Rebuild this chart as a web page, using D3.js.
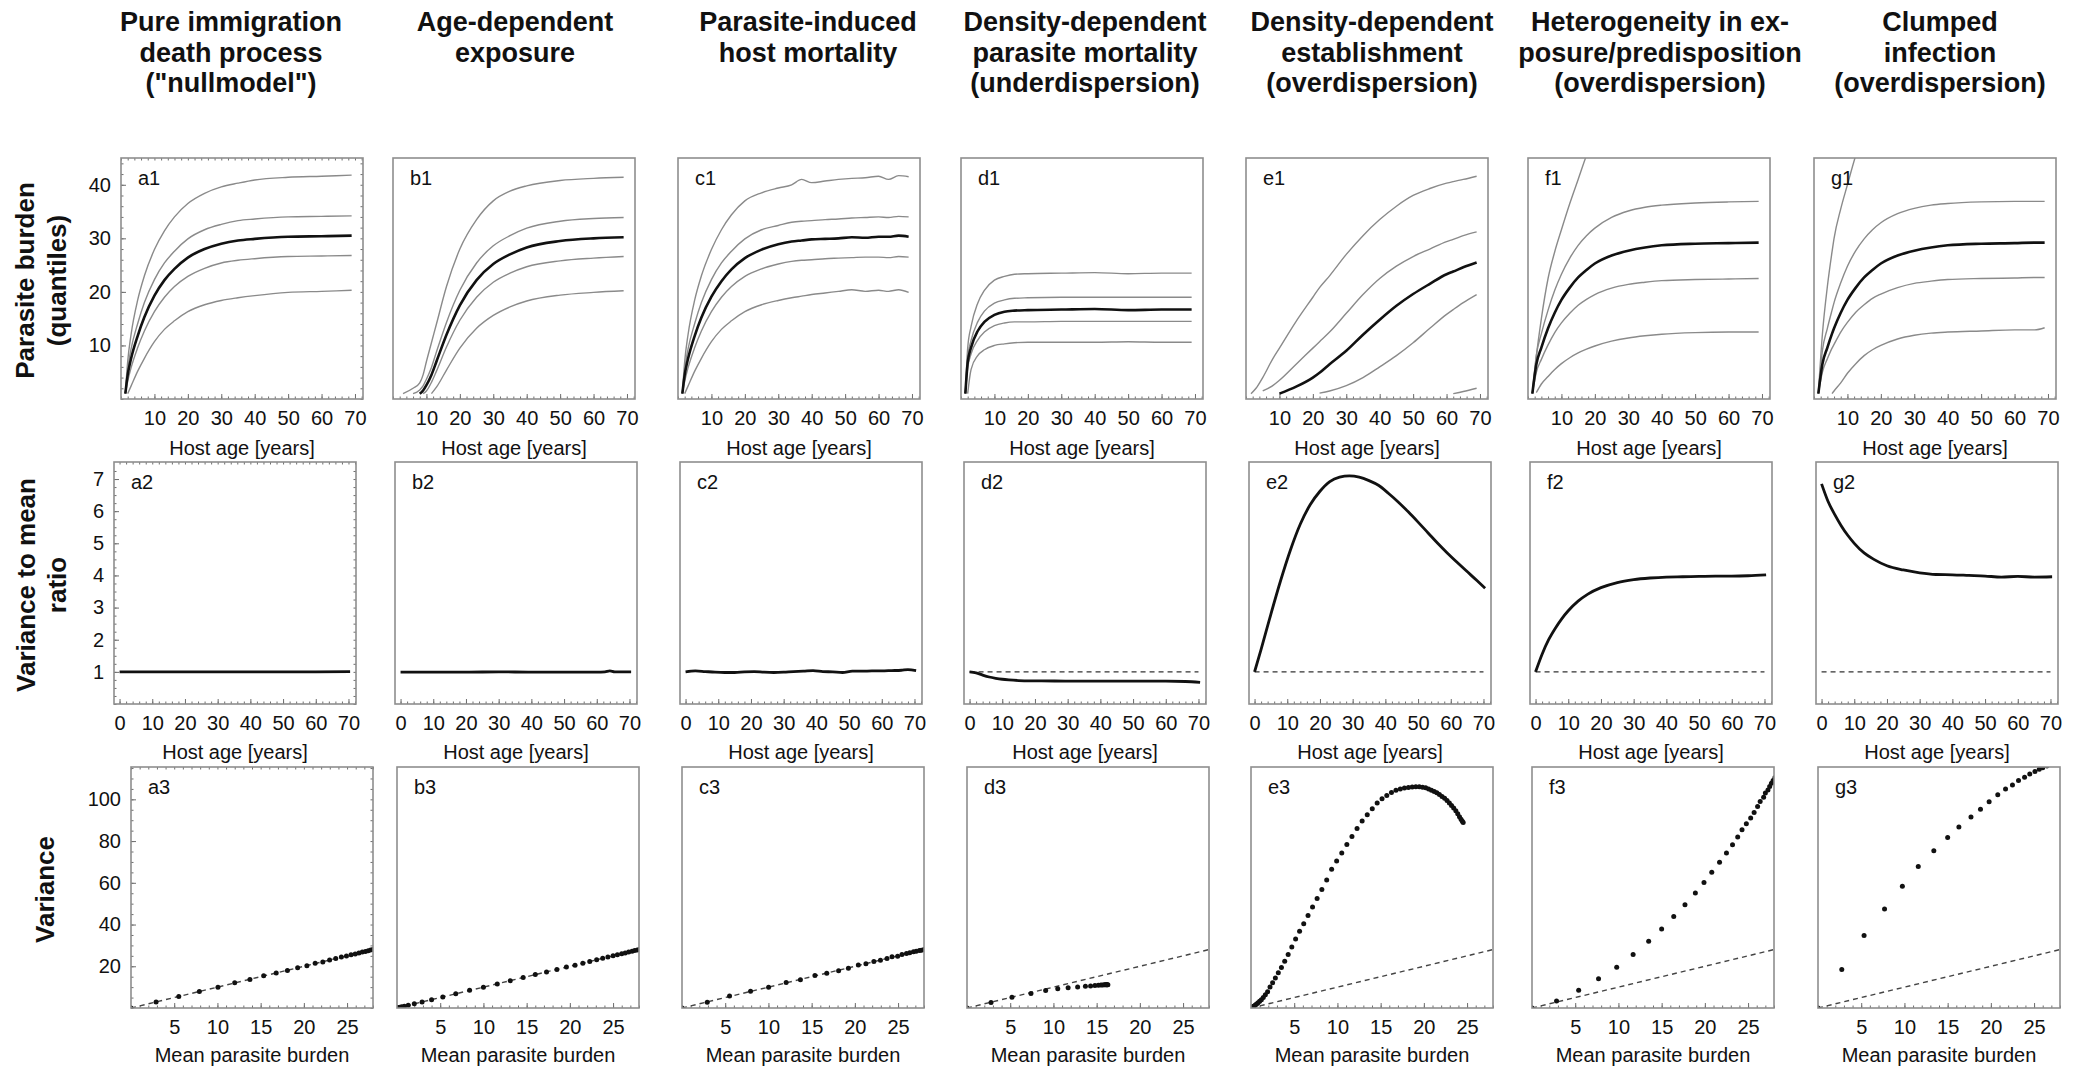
<!DOCTYPE html>
<html>
<head>
<meta charset="utf-8">
<script src="https://cdn.jsdelivr.net/npm/d3@7"></script>
<style>
  html, body { margin: 0; padding: 0; background: #fff; }
  svg { display: block; font-family: "Liberation Sans", Arial, Helvetica, sans-serif; }
</style>
</head>
<body>
<script>
// ---------------- Column headers ----------------
const colTitles = [
  ["Pure immigration", "death process", "(\"nullmodel\")"],
  ["Age-dependent", "exposure"],
  ["Parasite-induced", "host mortality"],
  ["Density-dependent", "parasite mortality", "(underdispersion)"],
  ["Density-dependent", "establishment", "(overdispersion)"],
  ["Heterogeneity in ex-", "posure/predisposition", "(overdispersion)"],
  ["Clumped", "infection", "(overdispersion)"]
];
const colIds = ["a", "b", "c", "d", "e", "f", "g"];

// ---------------- Row 1: parasite burden quantiles by host age ----------------
const a1Age = [1.3, 2, 3, 5, 7, 10, 13, 16, 20, 25, 30, 35, 40, 50, 60, 69];
const a1Hi  = [1, 7, 12, 18.5, 23, 27.9, 31.4, 34, 36.5, 38.4, 39.6, 40.3, 40.9, 41.4, 41.6, 41.8];
const a1Q75 = [1, 5.5, 9.3, 14.1, 18, 22.3, 25.4, 27.6, 29.9, 31.6, 32.6, 33.3, 33.6, 34, 34.1, 34.2];
const a1Med = [1, 4.5, 7.5, 11.8, 15.3, 19.3, 22.2, 24.3, 26.4, 28, 29, 29.6, 29.9, 30.3, 30.4, 30.5];
const a1Q25 = [1, 3.3, 5.8, 9.6, 12.7, 16.3, 19, 21, 22.9, 24.4, 25.4, 25.9, 26.2, 26.6, 26.7, 26.8];
const a1Lo  = [null, 1, 2.4, 5.2, 7.6, 10.7, 13, 14.6, 16.3, 17.6, 18.4, 18.9, 19.3, 19.9, 20.1, 20.3];

const b1Age = [3, 6, 8, 9, 10, 11.5, 13, 16, 20, 25, 30, 35, 40, 50, 60, 69];
const b1Hi  = [1, 2, 3, 4.5, 7, 10.5, 14, 21, 28, 33.5, 37, 38.8, 39.8, 40.8, 41.2, 41.4];
const b1Q75 = [null, 1, 1.7, 2.45, 3.7, 5.9, 8.8, 14.3, 20.3, 25.4, 28.6, 30.5, 31.9, 33.2, 33.7, 33.9];
const b1Med = [null, null, 1, 1.6, 2.6, 4.5, 7, 12, 17.5, 22.2, 25.2, 27, 28.3, 29.5, 30, 30.2];
const b1Q25 = [null, null, null, 1, 1.5, 3.1, 5.2, 9.7, 14.7, 19, 21.8, 23.5, 24.7, 25.8, 26.3, 26.6];
const b1Lo  = [null, null, null, null, null, 1, 2.2, 5.4, 9.5, 13.2, 15.6, 17.2, 18.3, 19.4, 19.9, 20.2];

const c1Age = [1.3, 2, 3, 5, 7, 10, 13, 16, 20, 25, 30, 34, 37, 40, 44, 48, 52, 56, 60, 63, 66, 69];
const c1Hi  = [1, 7, 12, 18.5, 23, 27.9, 31.6, 34.4, 37, 38.5, 39.4, 40, 41, 40.4, 40.7, 41, 41.2, 41.3, 41.6, 41, 41.7, 41.5];
const c1Q75 = [1, 5.5, 9.3, 14.1, 18, 22.3, 25.4, 27.6, 29.9, 31.6, 32.4, 33, 33.2, 33.3, 33.5, 33.6, 33.8, 33.9, 34, 33.9, 34.1, 34];
const c1Med = [1, 4.5, 7.5, 11.8, 15.2, 19.1, 22, 24.2, 26.3, 27.9, 28.9, 29.4, 29.6, 29.8, 29.9, 30, 30.2, 30.1, 30.3, 30.3, 30.5, 30.3];
const c1Q25 = [1, 3.3, 5.8, 9.6, 12.7, 16.3, 19, 21, 22.9, 24.3, 25.2, 25.7, 25.9, 26, 26.2, 26.3, 26.4, 26.5, 26.5, 26.4, 26.6, 26.5];
const c1Lo  = [null, 1, 2.4, 5.2, 7.6, 10.7, 13, 14.6, 16.3, 17.6, 18.4, 18.9, 19.2, 19.5, 19.8, 20.1, 20.4, 20.1, 20.3, 20.1, 20.4, 19.9];

const d1Age = [1.3, 2, 3, 5, 7, 10, 13, 16, 20, 30, 40, 50, 60, 69];
const d1Hi  = [1, 9.5, 13.5, 17.9, 20.3, 22.2, 22.9, 23.3, 23.4, 23.5, 23.6, 23.4, 23.5, 23.5];
const d1Q75 = [1, 7.8, 10.9, 14.4, 16.4, 17.9, 18.5, 18.8, 18.9, 19, 19, 19, 19, 19];
const d1Med = [1, 6.8, 9.6, 12.7, 14.4, 15.7, 16.3, 16.5, 16.6, 16.7, 16.8, 16.6, 16.7, 16.7];
const d1Q25 = [1, 5.8, 8.4, 11, 12.5, 13.7, 14.2, 14.4, 14.4, 14.5, 14.5, 14.5, 14.5, 14.5];
const d1Lo  = [null, 1, 5.5, 8.1, 9.2, 10, 10.3, 10.5, 10.6, 10.6, 10.6, 10.7, 10.6, 10.6];

const e1Age = [1.5, 3, 5, 8, 10, 15, 20, 22, 25, 30, 35, 40, 45, 50, 55, 60, 62, 65, 69];
const e1Hi  = [1, 2, 4, 7.5, 9.5, 14.5, 19, 20.8, 23, 27, 30.5, 33.5, 36, 38, 39.3, 40.3, 40.6, 41, 41.6];
const e1Q75 = [null, null, 1.5, 2.5, 3.5, 6.5, 9.5, 10.7, 12.5, 16, 19.5, 22.5, 24.8, 26.6, 28, 29.4, 29.8, 30.5, 31.2];
const e1Med = [null, null, null, null, 1, 2.3, 4, 4.9, 6.5, 9, 12, 14.8, 17.4, 19.6, 21.5, 23.3, 23.8, 24.6, 25.5];
const e1Q25 = [null, null, null, null, null, null, null, 1.1, 1.5, 2.5, 4, 6, 8.1, 10.5, 13.2, 15.8, 16.7, 18, 19.5];
const e1Lo  = [null, null, null, null, null, null, null, null, null, null, null, null, null, null, null, null, 1, 1.4, 2];

const f1Age = [1.3, 2.5, 4, 6, 8, 10, 12.5, 15, 17.5, 20, 25, 30, 35, 40, 50, 60, 69];
const f1Hi  = [1, 8, 15, 22.5, 27.5, 31.6, 36.5, 41, 45.5, 49.5, null, null, null, null, null, null, null];
const f1Q75 = [1, 8.2, 12.2, 16.6, 20.3, 23.3, 26.3, 28.7, 30.5, 31.9, 33.9, 35.1, 35.8, 36.2, 36.6, 36.8, 36.9];
const f1Med = [1, 6.5, 9.6, 13.2, 16.1, 18.5, 20.8, 22.7, 24.1, 25.3, 26.8, 27.7, 28.3, 28.7, 29, 29.1, 29.2];
const f1Q25 = [1, 5, 7.4, 10.1, 12.4, 14.2, 16, 17.5, 18.6, 19.5, 20.7, 21.4, 21.8, 22.1, 22.3, 22.4, 22.5];
const f1Lo  = [null, 1.2, 2.8, 4.2, 5.5, 6.6, 7.7, 8.6, 9.3, 9.9, 10.8, 11.4, 11.8, 12.1, 12.4, 12.5, 12.5];

const g1Age = [1.3, 2.5, 4, 5.4, 6, 8, 10, 12.5, 15, 17.5, 20, 25, 30, 35, 40, 50, 60, 66, 69];
const g1Hi  = [1, 12, 21, 27.5, 30, 35.5, 40, 45.5, 50, null, null, null, null, null, null, null, null, null, null];
const g1Q75 = [1, 9, 13.2, 16.6, 18, 21.7, 24.8, 27.7, 29.9, 31.6, 32.9, 34.6, 35.6, 36.2, 36.5, 36.8, 36.9, 36.9, 36.9];
const g1Med = [1, 6.5, 9.6, 12.2, 13.2, 16.1, 18.5, 20.8, 22.7, 24.1, 25.3, 26.8, 27.7, 28.3, 28.7, 29, 29.1, 29.2, 29.2];
const g1Q25 = [1, 5, 7.5, 9.5, 10.2, 12.5, 14.3, 16.2, 17.6, 18.8, 19.6, 20.8, 21.6, 22, 22.3, 22.5, 22.6, 22.7, 22.7];
const g1Lo  = [null, null, null, 1, 1.5, 3, 4.8, 6.6, 8.1, 9.2, 10, 11.2, 11.9, 12.3, 12.5, 12.7, 12.9, 12.9, 13.3];

// ---------------- Row 2: variance to mean ratio by host age ----------------
const a2Age = [0, 10, 20, 30, 40, 50, 60, 70.5];
const a2Vmr = [1, 1, 1, 1, 1, 1, 1, 1.01];
const b2Age = [0, 10, 20, 30, 40, 50, 60, 62.5, 64, 65.5, 70.5];
const b2Vmr = [0.99, 0.99, 0.99, 1, 0.99, 0.99, 0.99, 1, 1.03, 1, 1];
const c2Age = [0, 3, 6, 9, 12, 15, 18, 21, 24, 27, 30, 33, 36, 39, 42, 45, 48, 51, 54, 57, 60, 63, 66, 68, 70.5];
const c2Vmr = [1, 1.03, 1.01, 0.99, 0.98, 0.98, 1, 1.01, 0.99, 0.98, 0.99, 1.01, 1.02, 1.04, 1.01, 1, 0.98, 1.02, 1.02, 1.03, 1.03, 1.04, 1.05, 1.07, 1.04];
const d2Age = [0, 2, 4, 6, 8, 10, 12, 15, 18, 22, 30, 40, 50, 60, 66, 70.5];
const d2Vmr = [1, 0.97, 0.9, 0.84, 0.8, 0.77, 0.75, 0.73, 0.72, 0.72, 0.71, 0.71, 0.71, 0.71, 0.7, 0.67];
const e2Age = [0, 2, 5, 8, 11, 14, 17, 20, 23, 26, 29, 32, 35, 38, 41, 44, 47, 50, 53, 56, 59, 62, 65, 68, 70.5];
const e2Vmr = [1, 1.7, 2.8, 3.85, 4.8, 5.6, 6.2, 6.62, 6.92, 7.06, 7.1, 7.06, 6.95, 6.8, 6.55, 6.28, 5.98, 5.66, 5.33, 5, 4.69, 4.4, 4.12, 3.84, 3.6];
const f2Age = [0, 2, 4, 6, 8, 10, 13, 16, 20, 25, 30, 35, 40, 45, 50, 55, 60, 65, 70.5];
const f2Vmr = [1, 1.55, 2, 2.35, 2.65, 2.9, 3.2, 3.42, 3.62, 3.78, 3.87, 3.92, 3.95, 3.96, 3.97, 3.98, 3.98, 3.99, 4.02];
const g2Age = [0, 2, 4, 6, 8, 10, 13, 16, 20, 25, 30, 35, 40, 45, 50, 55, 60, 65, 70.5];
const g2Vmr = [6.85, 6.3, 5.9, 5.55, 5.25, 5, 4.7, 4.5, 4.3, 4.17, 4.08, 4.03, 4.02, 4, 3.98, 3.95, 3.97, 3.95, 3.96];
const vmrRef = 1;          // Poisson reference (variance = mean)
const vmrRefAge = [0, 70];

// ---------------- Row 3: variance against mean parasite burden ----------------
const a3Mean = [0, 2.9, 5.53, 7.91, 10.06, 12, 13.76, 15.35, 16.8, 18.1, 19.28, 20.35, 21.31, 22.19, 22.98, 23.69, 24.34, 24.93, 25.46, 25.94, 26.37, 26.76, 27.12, 27.44, 27.73, 28, 28.2, 28.4];
const a3Var  = [0, 2.9, 5.5, 7.9, 10, 12.1, 13.7, 15.4, 16.8, 18, 19.3, 20.3, 21.4, 22.1, 23, 23.7, 24.4, 24.9, 25.5, 25.9, 26.4, 26.8, 27.1, 27.4, 27.8, 28, 28.2, 28.4];

const b3Mean = [0, 0.02, 0.05, 0.1, 0.2, 0.35, 0.55, 0.85, 1.3, 2, 2.9, 4, 5.3, 6.8, 8.4, 10, 11.6, 13.1, 14.6, 16, 17.3, 18.5, 19.6, 20.6, 21.5, 22.3, 23.1, 23.8, 24.4, 25, 25.5, 26, 26.4, 26.8, 27.2, 27.5, 27.8, 28.05, 28.3];
const b3Var  = [0, 0.02, 0.05, 0.1, 0.2, 0.35, 0.55, 0.85, 1.3, 2, 2.9, 4, 5.3, 6.8, 8.5, 10, 11.5, 13.1, 14.6, 16.1, 17.3, 18.5, 19.6, 20.5, 21.5, 22.3, 23.1, 23.8, 24.4, 25, 25.5, 26, 26.4, 26.8, 27.2, 27.5, 27.8, 28.05, 28.3];

const c3Mean = [0, 2.92, 5.5, 7.93, 10.02, 12.05, 13.7, 15.38, 16.75, 18.12, 19.25, 20.4, 21.28, 22.2, 22.96, 23.72, 24.3, 24.95, 25.45, 25.97, 26.35, 26.78, 27.1, 27.47, 27.7, 28, 28.2, 28.4];
const c3Var  = [0, 2.8, 5.7, 8, 9.9, 12.2, 13.5, 15.6, 16.7, 17.9, 19, 20.6, 21.2, 22.3, 22.9, 23.7, 24.6, 24.8, 25.6, 26.1, 26.5, 26.9, 27.2, 27.6, 27.7, 28, 28.1, 28.3];

const d3Mean = [0, 2.78, 5.2, 7.4, 9.1, 10.5, 11.7, 12.8, 13.7, 14.3, 14.8, 15.2, 15.5, 15.7, 15.9, 16, 16.1, 16.2, 16.2, 16.3];
const d3Var  = [0, 2.6, 5.1, 6.9, 8.4, 9.2, 9.7, 10.1, 10.4, 10.6, 10.8, 10.9, 11, 11, 11.1, 11.1, 11.1, 11.2, 11.2, 11.2];

const e3Mean = [0, 0.02, 0.05, 0.1, 0.17, 0.26, 0.37, 0.5, 0.65, 0.82, 1, 1.2, 1.42, 1.66, 1.92, 2.2, 2.5, 2.82, 3.16, 3.52, 3.9, 4.3, 4.72, 5.16, 5.62, 6.1, 6.6, 7.12, 7.65, 8.2, 8.76, 9.33, 9.91, 10.5, 11.09, 11.68, 12.27, 12.86, 13.45, 14.03, 14.6, 15.16, 15.71, 16.25, 16.77, 17.27, 17.75, 18.21, 18.65, 19.07, 19.47, 19.85, 20.21, 20.55, 20.88, 21.2, 21.5, 21.8, 22.1, 22.4, 22.68, 22.95, 23.2, 23.45, 23.7, 23.92, 24.12, 24.3, 24.45, 24.55];
const e3Var  = [0, 0.05, 0.12, 0.25, 0.45, 0.7, 1, 1.4, 1.9, 2.5, 3.2, 4, 5, 6.3, 7.8, 10.1, 12.1, 14.4, 16.9, 19.4, 22.4, 25.6, 29.2, 33.1, 36.8, 40.4, 44.3, 48.4, 52.5, 56.8, 61.4, 66.5, 70.5, 74.3, 78.3, 82.2, 86, 89.6, 92.6, 95.5, 98.2, 100.3, 101.9, 103.3, 104.3, 105, 105.4, 105.7, 105.9, 106, 106, 105.8, 105.6, 105, 104.4, 103.8, 103.1, 102.3, 101.4, 100.5, 99.4, 98.3, 97.1, 95.9, 94.5, 93.1, 91.7, 90.4, 89.5, 88.9];

const f3Mean = [0, 2.84, 5.4, 7.7, 9.8, 11.7, 13.5, 15, 16.4, 17.7, 18.9, 19.9, 20.8, 21.7, 22.5, 23.2, 23.8, 24.3, 24.8, 25.3, 25.7, 26.1, 26.4, 26.8, 27, 27.3, 27.5, 27.7, 27.9, 28.1];
const f3Var  = [0, 3.3, 8.5, 14, 19.5, 25.6, 32, 37.9, 43.9, 49.5, 55.1, 60.2, 65, 69.8, 74.3, 78.2, 81.9, 85.4, 88.3, 91, 93.7, 96.6, 99, 101, 103, 104.5, 106.1, 107.7, 109, 110.4];

const g3Mean = [0, 2.75, 5.33, 7.7, 9.76, 11.6, 13.4, 15, 16.3, 17.7, 18.8, 19.8, 20.8, 21.7, 22.5, 23.2, 23.9, 24.5, 25.1, 25.6, 26, 26.5, 26.8, 27.1, 27.4];
const g3Var  = [0, 18.4, 34.7, 47.5, 58.3, 67.8, 75.4, 81.7, 86.7, 91.5, 95.3, 98.9, 102.2, 104.9, 106.9, 109, 110.6, 112.2, 113.3, 114.4, 115.2, 116, 117, 117.8, 118.5];
const meanRef = [0, 28];   // variance = mean reference line

// ---------------- Assemble per-panel series ----------------
const zipQ = (age, arr) => age.map((a, i) => [a, arr[i]]);
const row1Data = [
  [a1Age, a1Hi, a1Q75, a1Med, a1Q25, a1Lo],
  [b1Age, b1Hi, b1Q75, b1Med, b1Q25, b1Lo],
  [c1Age, c1Hi, c1Q75, c1Med, c1Q25, c1Lo],
  [d1Age, d1Hi, d1Q75, d1Med, d1Q25, d1Lo],
  [e1Age, e1Hi, e1Q75, e1Med, e1Q25, e1Lo],
  [f1Age, f1Hi, f1Q75, f1Med, f1Q25, f1Lo],
  [g1Age, g1Hi, g1Q75, g1Med, g1Q25, g1Lo]
];
const row2Data = [
  [a2Age, a2Vmr, false], [b2Age, b2Vmr, false], [c2Age, c2Vmr, false],
  [d2Age, d2Vmr, true], [e2Age, e2Vmr, true], [f2Age, f2Vmr, true], [g2Age, g2Vmr, true]
];
const row3Data = [
  [a3Mean, a3Var], [b3Mean, b3Var], [c3Mean, c3Var], [d3Mean, d3Var],
  [e3Mean, e3Var], [f3Mean, f3Var], [g3Mean, g3Var]
];

// ---------------- Layout ----------------
const W = 2087, H = 1072, PW = 242;
const rows = [
  { lefts: [121, 393, 678, 961, 1246, 1528, 1814], top: 158, h: 241,
    xDom: [0, 72.4], yDom: [0, 45],
    xMajor: [10, 20, 30, 40, 50, 60, 70], xMinor: d3.range(0, 73, 2),
    yMajor: [10, 20, 30, 40], yMinor: d3.range(0, 45, 2),
    xTitle: "Host age [years]", xTitleY: 455,
    yTitle: ["Parasite burden", "(quantiles)"], yTitleX: [34, 66] },
  { lefts: [114, 395, 680, 964, 1249, 1530, 1816], top: 462, h: 242,
    xDom: [-1.7, 72.3], yDom: [0, 7.53],
    xMajor: [0, 10, 20, 30, 40, 50, 60, 70], xMinor: d3.range(0, 73, 2),
    yMajor: [1, 2, 3, 4, 5, 6, 7], yMinor: d3.range(0, 7.5, 0.25),
    xTitle: "Host age [years]", xTitleY: 759,
    yTitle: ["Variance to mean", "ratio"], yTitleX: [35, 66] },
  { lefts: [131, 397, 682, 967, 1251, 1532, 1818], top: 767, h: 241,
    xDom: [0, 28], yDom: [0, 115.5],
    xMajor: [5, 10, 15, 20, 25], xMinor: d3.range(0, 28.5, 1),
    yMajor: [20, 40, 60, 80, 100], yMinor: d3.range(0, 116, 5),
    xTitle: "Mean parasite burden", xTitleY: 1062,
    yTitle: ["Variance"], yTitleX: [54] }
];
const titleCenters = [231, 515, 808, 1085, 1372, 1660, 1940];

const svg = d3.select("body").append("svg")
  .attr("width", W).attr("height", H).attr("viewBox", `0 0 ${W} ${H}`);
const defs = svg.append("defs");

const INK = "#111";
const FRAME = "#8e8e8e";
const TICK = "#6e6e6e";
const QGREY = "#8a8a8a";

// Column headers
colTitles.forEach((lines, i) => {
  const t = svg.append("text")
    .attr("text-anchor", "middle")
    .attr("font-weight", "bold")
    .attr("font-size", 27)
    .attr("fill", INK);
  lines.forEach((ln, k) => {
    t.append("tspan").attr("x", titleCenters[i]).attr("y", 31 + k * 30.7).text(ln);
  });
});

// Row titles (rotated)
rows.forEach(r => {
  const cy = r.top + r.h / 2 + 2;
  r.yTitle.forEach((ln, k) => {
    svg.append("text")
      .attr("transform", `translate(${r.yTitleX[k]},${cy}) rotate(-90)`)
      .attr("text-anchor", "middle")
      .attr("font-weight", "bold")
      .attr("font-size", 26)
      .attr("fill", INK)
      .text(ln);
  });
});

function styleAxis(g, withText) {
  g.attr("font-family", null).attr("font-size", null);
  g.select(".domain").remove();
  g.selectAll(".tick line").attr("stroke", TICK).attr("stroke-width", 1);
  if (withText) {
    g.selectAll(".tick text").attr("fill", INK).attr("font-size", 20);
  }
}

function drawPanel(ri, ci) {
  const r = rows[ri];
  const left = r.lefts[ci], top = r.top, h = r.h;
  const x = d3.scaleLinear().domain(r.xDom).range([left, left + PW]);
  const y = d3.scaleLinear().domain(r.yDom).range([top + h, top]);
  const g = svg.append("g");

  const clipId = `clip-${ri}-${ci}`;
  defs.append("clipPath").attr("id", clipId)
    .append("rect").attr("x", left).attr("y", top).attr("width", PW).attr("height", h);

  // frame ticks (inward)
  const bottomMinor = d3.axisBottom(x).tickValues(r.xMinor).tickSize(-2.5).tickFormat("");
  const bottomMajor = d3.axisBottom(x).tickValues(r.xMajor).tickSize(-5).tickPadding(12).tickFormat(d3.format("d"));
  g.append("g").attr("transform", `translate(0,${top + h})`).call(bottomMinor).call(a => styleAxis(a, false));
  g.append("g").attr("transform", `translate(0,${top + h})`).call(bottomMajor).call(a => styleAxis(a, true));

  if (ci === 0) {
    const leftMinor = d3.axisLeft(y).tickValues(r.yMinor).tickSize(-2.5).tickFormat("");
    const leftMajor = d3.axisLeft(y).tickValues(r.yMajor).tickSize(-5).tickPadding(10).tickFormat(d3.format("d"));
    g.append("g").attr("transform", `translate(${left},0)`).call(leftMinor).call(a => styleAxis(a, false));
    g.append("g").attr("transform", `translate(${left},0)`).call(leftMajor).call(a => styleAxis(a, true));
    const topMinor = d3.axisTop(x).tickValues(r.xMinor).tickSize(-2.5).tickFormat("");
    g.append("g").attr("transform", `translate(0,${top})`).call(topMinor).call(a => styleAxis(a, false));
    const rightMinor = d3.axisRight(y).tickValues(r.yMinor).tickSize(-2.5).tickFormat("");
    g.append("g").attr("transform", `translate(${left + PW},0)`).call(rightMinor).call(a => styleAxis(a, false));
  }

  // plotted content
  const plot = g.append("g").attr("clip-path", `url(#${clipId})`);

  if (ri === 0) {
    const [age, hi, q75, med, q25, lo] = row1Data[ci];
    const line = d3.line()
      .defined(d => d[1] != null)
      .x(d => x(d[0])).y(d => y(d[1]))
      .curve(d3.curveMonotoneX);
    [hi, q75, q25, lo].forEach(s => {
      plot.append("path").attr("d", line(zipQ(age, s)))
        .attr("fill", "none").attr("stroke", QGREY).attr("stroke-width", 1.4);
    });
    plot.append("path").attr("d", line(zipQ(age, med)))
      .attr("fill", "none").attr("stroke", INK).attr("stroke-width", 2.6);
  } else if (ri === 1) {
    const [age, vmr, showRef] = row2Data[ci];
    const line = d3.line().x(d => x(d[0])).y(d => y(d[1])).curve(d3.curveMonotoneX);
    if (showRef) {
      plot.append("path").attr("d", line(vmrRefAge.map(a => [a, vmrRef])))
        .attr("fill", "none").attr("stroke", "#333").attr("stroke-width", 1.4)
        .attr("stroke-dasharray", "5,4");
    }
    plot.append("path").attr("d", line(zipQ(age, vmr)))
      .attr("fill", "none").attr("stroke", INK).attr("stroke-width", 2.8);
  } else {
    const [mean, vr] = row3Data[ci];
    plot.append("line")
      .attr("x1", x(meanRef[0])).attr("y1", y(meanRef[0]))
      .attr("x2", x(meanRef[1])).attr("y2", y(meanRef[1]))
      .attr("stroke", "#444").attr("stroke-width", 1.4).attr("stroke-dasharray", "5,4");
    plot.selectAll("circle").data(mean.map((m, i) => [m, vr[i]])).join("circle")
      .attr("cx", d => x(d[0])).attr("cy", d => y(d[1])).attr("r", 2.5)
      .attr("fill", INK);
  }

  // frame
  g.append("rect").attr("x", left).attr("y", top).attr("width", PW).attr("height", h)
    .attr("fill", "none").attr("stroke", FRAME).attr("stroke-width", 1.6);

  // panel tag
  g.append("text").attr("x", left + 17).attr("y", top + 27)
    .attr("font-size", 20).attr("fill", INK).text(colIds[ci] + (ri + 1));

  // x-axis title
  g.append("text").attr("x", left + PW / 2).attr("y", r.xTitleY)
    .attr("text-anchor", "middle").attr("font-size", 20).attr("fill", INK).text(r.xTitle);
}

for (let ri = 0; ri < 3; ri++) {
  for (let ci = 0; ci < 7; ci++) drawPanel(ri, ci);
}
</script>
</body>
</html>
